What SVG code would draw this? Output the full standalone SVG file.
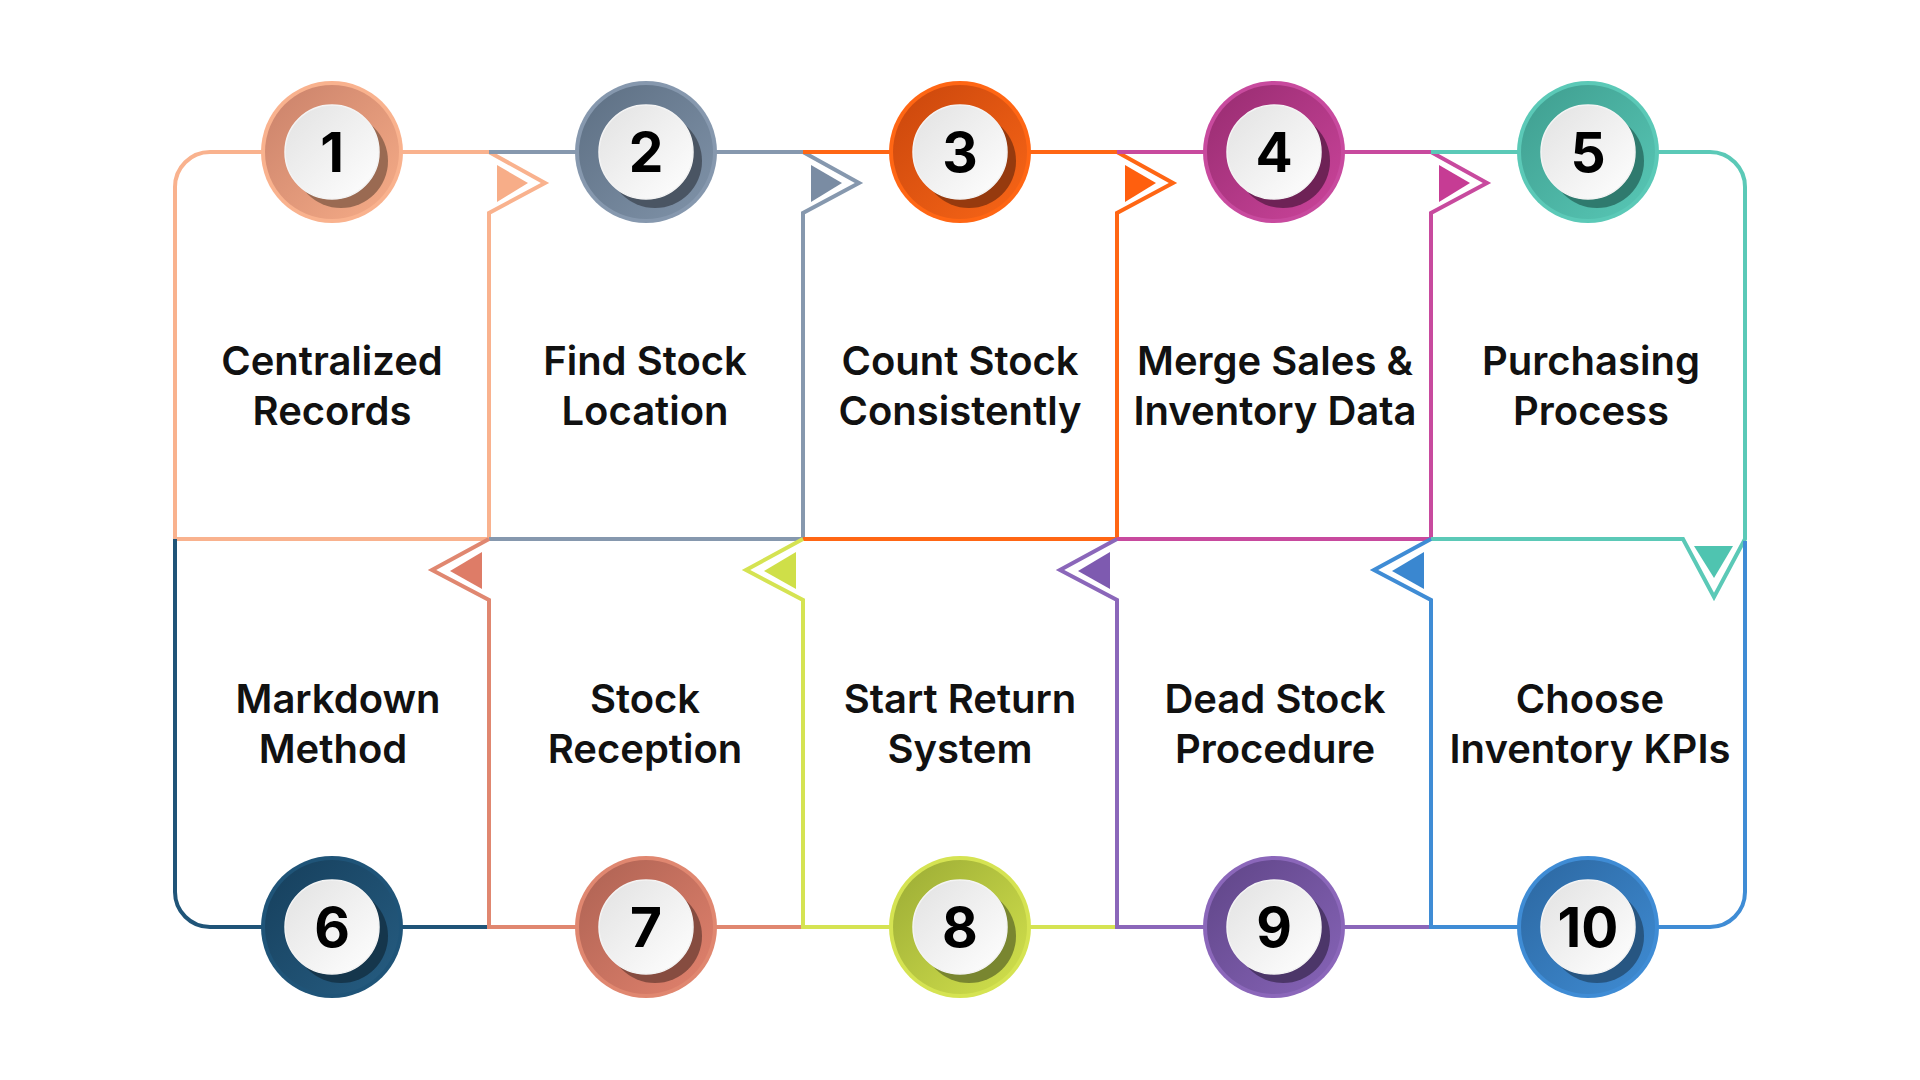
<svg xmlns="http://www.w3.org/2000/svg" width="1920" height="1080" viewBox="0 0 1920 1080">
<defs>
<style>
.ln{fill:none;stroke-width:4;stroke-linejoin:miter}
.lbl{font-family:Inter,"Noto Sans","Liberation Sans",sans-serif;font-weight:600;font-size:40px;fill:#111;text-anchor:middle}
.num{font-family:Inter,"Noto Sans","Liberation Sans",sans-serif;font-weight:700;font-size:55px;fill:#000;text-anchor:middle}
.wh{fill:url(#gw);stroke:#f4f4f4;stroke-width:1.5}
</style>
<linearGradient id="gw" x1="0" y1="0" x2="1" y2="1"><stop offset="0" stop-color="#e2e2e2"/><stop offset="1" stop-color="#ffffff"/></linearGradient>
<linearGradient id="g1" x1="0" y1="0" x2="1" y2="1"><stop offset="0" stop-color="#c9816a"/><stop offset="1" stop-color="#f7ad88"/></linearGradient>
<linearGradient id="g2" x1="0" y1="0" x2="1" y2="1"><stop offset="0" stop-color="#5d6f83"/><stop offset="1" stop-color="#8093a9"/></linearGradient>
<linearGradient id="g3" x1="0" y1="0" x2="1" y2="1"><stop offset="0" stop-color="#c9460c"/><stop offset="1" stop-color="#f96617"/></linearGradient>
<linearGradient id="g4" x1="0" y1="0" x2="1" y2="1"><stop offset="0" stop-color="#972c70"/><stop offset="1" stop-color="#cb449b"/></linearGradient>
<linearGradient id="g5" x1="0" y1="0" x2="1" y2="1"><stop offset="0" stop-color="#3f9d8f"/><stop offset="1" stop-color="#58c8b6"/></linearGradient>
<linearGradient id="g6" x1="0" y1="0" x2="1" y2="1"><stop offset="0" stop-color="#163f5c"/><stop offset="1" stop-color="#265d82"/></linearGradient>
<linearGradient id="g7" x1="0" y1="0" x2="1" y2="1"><stop offset="0" stop-color="#ad6253"/><stop offset="1" stop-color="#e2826d"/></linearGradient>
<linearGradient id="g8" x1="0" y1="0" x2="1" y2="1"><stop offset="0" stop-color="#9bab35"/><stop offset="1" stop-color="#d3e24d"/></linearGradient>
<linearGradient id="g9" x1="0" y1="0" x2="1" y2="1"><stop offset="0" stop-color="#5f4587"/><stop offset="1" stop-color="#8764b8"/></linearGradient>
<linearGradient id="g10" x1="0" y1="0" x2="1" y2="1"><stop offset="0" stop-color="#2c67a0"/><stop offset="1" stop-color="#3f8cd4"/></linearGradient>
</defs>
<rect width="1920" height="1080" fill="#ffffff"/>

<g id="connectors">
  <path class="ln" stroke="#f9b28e" d="M489,539 L175,539 L175,187 A35,35 0 0 1 210,152 L489,152 L545,183 L489,213 Z"/>
  <path class="ln" stroke="#8698ae" d="M489,539 L803,539 L803,213 L859,183 L803,152 L489,152"/>
  <path class="ln" stroke="#ff6614" d="M803,539 L1117,539 L1117,213 L1173,183 L1117,152 L803,152"/>
  <path class="ln" stroke="#c84a9e" d="M1117,539 L1431,539 L1431,213 L1487,183 L1431,152 L1117,152"/>
  <path class="ln" stroke="#5bc9b7" d="M1431,152 L1710,152 A35,35 0 0 1 1745,187 L1745,539 L1714,597 L1683,539 L1431,539"/>
  <path class="ln" stroke="#1f5478" d="M175,539 L175,892 A35,35 0 0 0 210,927 L489,927"/>
  <path class="ln" stroke="#e08770" d="M803,927 L489,927 L489,600 L432,570 L489,539"/>
  <path class="ln" stroke="#d5e352" d="M1117,927 L803,927 L803,600 L746,570 L803,539"/>
  <path class="ln" stroke="#8b67ba" d="M1431,927 L1117,927 L1117,600 L1060,570 L1117,539"/>
  <path class="ln" stroke="#3f8cd5" d="M1745,541 L1745,892 A35,35 0 0 1 1710,927 L1431,927 L1431,600 L1374,570 L1431,539"/>
  <polygon fill="#f7ad88" points="497,165 528,183 497,202"/>
  <polygon fill="#7a8ca3" points="811,165 842,183 811,202"/>
  <polygon fill="#ff5f0e" points="1125,165 1156,183 1125,202"/>
  <polygon fill="#c63c94" points="1439,165 1470,183 1439,202"/>
  <polygon fill="#4fc4b0" points="1694,546 1733,546 1714,578"/>
  <polygon fill="#de7c67" points="482,552 450,571 482,589"/>
  <polygon fill="#cfdf48" points="796,552 764,571 796,589"/>
  <polygon fill="#7e5ab0" points="1110,552 1078,571 1110,589"/>
  <polygon fill="#3a87d0" points="1424,552 1392,571 1424,589"/>
</g>

<g id="node1">
  <circle cx="332" cy="152" r="71" fill="#f9b28e"/><circle cx="332" cy="152" r="67" fill="url(#g1)"/>
  <circle cx="341" cy="161" r="47" fill="#9a6a52"/><circle cx="332" cy="152" r="47" class="wh"/>
  <text class="num" x="332" y="172">1</text>
  <text class="lbl" x="332" y="375">Centralized</text><text class="lbl" x="332" y="425">Records</text>
</g>
<g id="node2">
  <circle cx="646" cy="152" r="71" fill="#8698ae"/><circle cx="646" cy="152" r="67" fill="url(#g2)"/>
  <circle cx="655" cy="161" r="47" fill="#4a5563"/><circle cx="646" cy="152" r="47" class="wh"/>
  <text class="num" x="646" y="172">2</text>
  <text class="lbl" x="645" y="375">Find Stock</text><text class="lbl" x="645" y="425">Location</text>
</g>
<g id="node3">
  <circle cx="960" cy="152" r="71" fill="#ff6614"/><circle cx="960" cy="152" r="67" fill="url(#g3)"/>
  <circle cx="969" cy="161" r="47" fill="#963a0e"/><circle cx="960" cy="152" r="47" class="wh"/>
  <text class="num" x="960" y="172">3</text>
  <text class="lbl" x="960" y="375">Count Stock</text><text class="lbl" x="960" y="425">Consistently</text>
</g>
<g id="node4">
  <circle cx="1274" cy="152" r="71" fill="#c84a9e"/><circle cx="1274" cy="152" r="67" fill="url(#g4)"/>
  <circle cx="1283" cy="161" r="47" fill="#6e2256"/><circle cx="1274" cy="152" r="47" class="wh"/>
  <text class="num" x="1274" y="172">4</text>
  <text class="lbl" x="1275" y="375">Merge Sales &amp;</text><text class="lbl" x="1275" y="425">Inventory Data</text>
</g>
<g id="node5">
  <circle cx="1588" cy="152" r="71" fill="#5bc9b7"/><circle cx="1588" cy="152" r="67" fill="url(#g5)"/>
  <circle cx="1597" cy="161" r="47" fill="#2f7a6e"/><circle cx="1588" cy="152" r="47" class="wh"/>
  <text class="num" x="1588" y="172">5</text>
  <text class="lbl" x="1591" y="375">Purchasing</text><text class="lbl" x="1591" y="425">Process</text>
</g>
<g id="node6">
  <circle cx="332" cy="927" r="71" fill="#1f5478"/><circle cx="332" cy="927" r="67" fill="url(#g6)"/>
  <circle cx="341" cy="936" r="47" fill="#15364c"/><circle cx="332" cy="927" r="47" class="wh"/>
  <text class="num" x="332" y="947">6</text>
  <text class="lbl" x="338" y="713">Markdown</text><text class="lbl" x="333" y="763">Method</text>
</g>
<g id="node7">
  <circle cx="646" cy="927" r="71" fill="#e08770"/><circle cx="646" cy="927" r="67" fill="url(#g7)"/>
  <circle cx="655" cy="936" r="47" fill="#864c40"/><circle cx="646" cy="927" r="47" class="wh"/>
  <text class="num" x="646" y="947">7</text>
  <text class="lbl" x="645" y="713">Stock</text><text class="lbl" x="645" y="763">Reception</text>
</g>
<g id="node8">
  <circle cx="960" cy="927" r="71" fill="#d5e352"/><circle cx="960" cy="927" r="67" fill="url(#g8)"/>
  <circle cx="969" cy="936" r="47" fill="#798630"/><circle cx="960" cy="927" r="47" class="wh"/>
  <text class="num" x="960" y="947">8</text>
  <text class="lbl" x="960" y="713">Start Return</text><text class="lbl" x="960" y="763">System</text>
</g>
<g id="node9">
  <circle cx="1274" cy="927" r="71" fill="#8b67ba"/><circle cx="1274" cy="927" r="67" fill="url(#g9)"/>
  <circle cx="1283" cy="936" r="47" fill="#4c3669"/><circle cx="1274" cy="927" r="47" class="wh"/>
  <text class="num" x="1274" y="947">9</text>
  <text class="lbl" x="1275" y="713">Dead Stock</text><text class="lbl" x="1275" y="763">Procedure</text>
</g>
<g id="node10">
  <circle cx="1588" cy="927" r="71" fill="#3f8cd5"/><circle cx="1588" cy="927" r="67" fill="url(#g10)"/>
  <circle cx="1597" cy="936" r="47" fill="#275682"/><circle cx="1588" cy="927" r="47" class="wh"/>
  <text class="num" x="1588" y="947">10</text>
  <text class="lbl" x="1590" y="713">Choose</text><text class="lbl" x="1590" y="763">Inventory KPIs</text>
</g>
</svg>
